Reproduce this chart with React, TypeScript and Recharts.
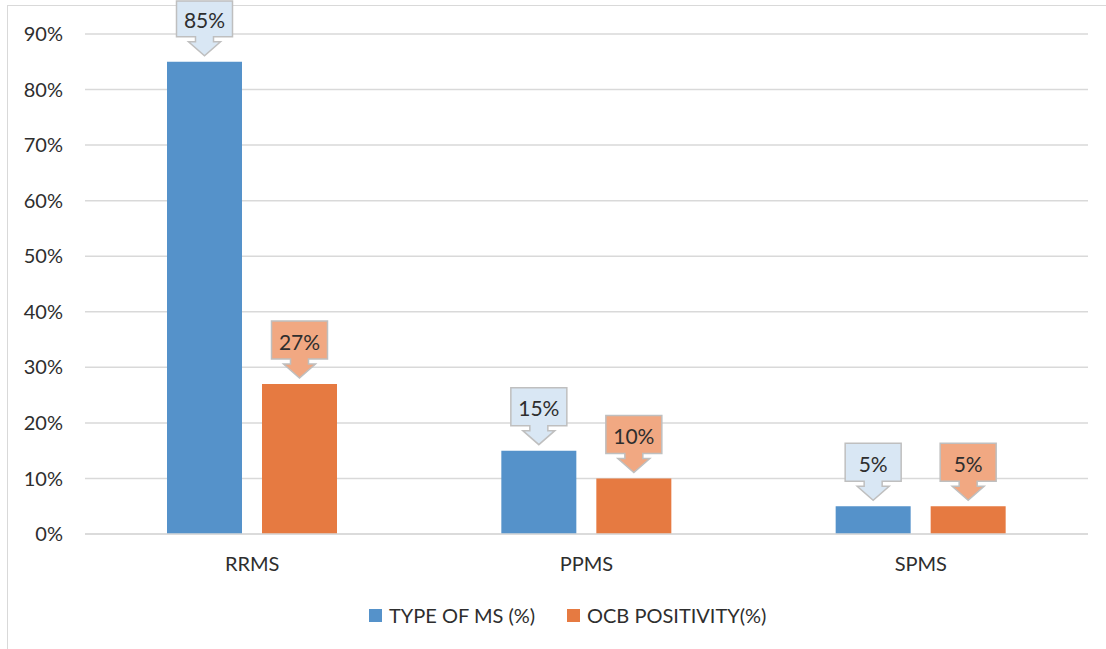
import React from 'react';
import { BarChart, Bar, XAxis, YAxis, CartesianGrid, Legend, LabelList } from 'recharts';

const categories = ['RRMS', 'PPMS', 'SPMS'];
const typeOfMS = [85, 15, 5];
const ocbPositivity = [27, 10, 5];
const yTicks = [0, 10, 20, 30, 40, 50, 60, 70, 80, 90];
const seriesNames = ['TYPE OF MS (%)', 'OCB POSITIVITY(%)'];

const data = categories.map((c, i) => ({ name: c, type: typeOfMS[i], ocb: ocbPositivity[i] }));

const FONT = 'Lato, "Open Sans", sans-serif';
const BLUE = '#5592CA';
const ORANGE = '#E67A41';
const BLUE_LIGHT = '#D9E7F4';
const ORANGE_LIGHT = '#F1A882';
const TEXT = '#2E2E2E';

const makeCallout = (fill: string) => (props: any) => {
  const { x, y, width, value } = props;
  const cx = Number(x) + Number(width) / 2;
  const tip = Number(y) - 6;
  const headH = 14;
  const shaftH = 5;
  const boxH = 38;
  const boxW = 56;
  const shaftW = 18;
  const headW = 32;
  const boxBottom = tip - headH - shaftH;
  const boxTop = Math.max(boxBottom - boxH, 1);
  const d = `M ${cx - boxW / 2} ${boxTop} H ${cx + boxW / 2} V ${boxBottom} H ${cx + shaftW / 2} V ${boxBottom + shaftH} H ${cx + headW / 2} L ${cx} ${tip} L ${cx - headW / 2} ${boxBottom + shaftH} H ${cx - shaftW / 2} V ${boxBottom} H ${cx - boxW / 2} Z`;
  return (
    <g>
      <path d={d} fill={fill} stroke="#BFBFBF" strokeWidth={1.5} />
      <text x={cx} y={(boxTop + boxBottom) / 2 + 1} textAnchor="middle" dominantBaseline="central" fontFamily={FONT} fontSize={21} fill={TEXT}>
        {`${value}%`}
      </text>
    </g>
  );
};

const LegendContent = () => (
  <div style={{ display: 'flex', alignItems: 'center', fontFamily: FONT, fontSize: 20, color: TEXT }}>
    {seriesNames.map((n, i) => (
      <div key={n} style={{ display: 'flex', alignItems: 'center', width: i === 0 ? 198 : 'auto' }}>
        <span style={{ display: 'inline-block', width: 13, height: 13, background: i === 0 ? BLUE : ORANGE, marginRight: 7 }} />
        <span>{n}</span>
      </div>
    ))}
  </div>
);

export default function App() {
  return (
    <div style={{ position: 'absolute', left: 0, top: 0, width: 1106, height: 649, background: '#fff' }}>
      <div style={{ position: 'absolute', left: 7, top: 5, width: 1099, height: 644, borderLeft: '1.5px solid #D9D9D9', borderTop: '1.5px solid #D9D9D9' }} />
      <BarChart
        width={1106}
        height={649}
        data={data}
        margin={{ top: 34, right: 18, left: 0, bottom: 85 }}
        barGap={20}
        barSize={75}
      >
        <CartesianGrid vertical={false} stroke="#D9D9D9" strokeWidth={1.5} />
        <XAxis
          dataKey="name"
          height={30}
          axisLine={{ stroke: '#D9D9D9', strokeWidth: 1.5 }}
          tickLine={false}
          tickSize={0}
          tickMargin={23}
          tick={{ fill: TEXT, fontSize: 20, fontFamily: FONT }}
        />
        <YAxis
          width={85}
          domain={[0, 90]}
          ticks={yTicks}
          interval={0}
          axisLine={false}
          tickLine={false}
          tickSize={0}
          tickMargin={22}
          tickFormatter={(v: number) => `${v}%`}
          tick={{ fill: TEXT, fontSize: 20, fontFamily: FONT }}
        />
        <Legend
          layout="horizontal"
          verticalAlign="middle"
          align="center"
          wrapperStyle={{ top: 603, left: 369, width: 450 }}
          content={<LegendContent />}
        />
        <Bar dataKey="type" name={seriesNames[0]} fill={BLUE} isAnimationActive={false}>
          <LabelList dataKey="type" content={makeCallout(BLUE_LIGHT)} />
        </Bar>
        <Bar dataKey="ocb" name={seriesNames[1]} fill={ORANGE} isAnimationActive={false}>
          <LabelList dataKey="ocb" content={makeCallout(ORANGE_LIGHT)} />
        </Bar>
      </BarChart>
    </div>
  );
}
